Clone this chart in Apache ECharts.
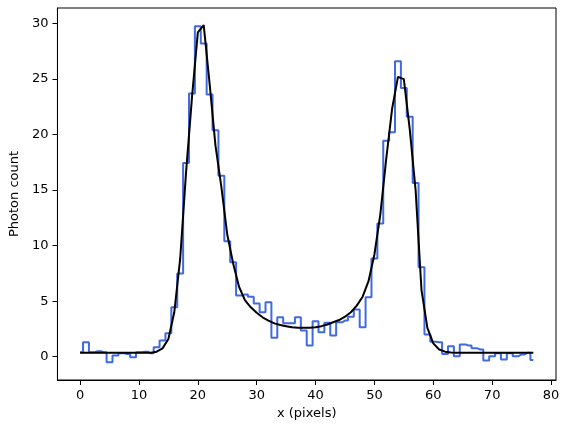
<!DOCTYPE html>
<html>
<head>
<meta charset="UTF-8">
<title>Photon count profile</title>
<script src="https://cdn.jsdelivr.net/npm/echarts@6/dist/echarts.min.js"></script>
<style>
	body { margin: 0; background: #fff; }
	#chart { width: 566px; height: 432px; }
</style>
</head>
<body>
<div id="chart"></div>
<script type="text/javascript">

	// pixel positions 0..77
	var pixels = [];
	for (var i = 0; i <= 77; i++) pixels.push(i);

	// measured counts (blue histogram)
	var counts = [
		0.4, 1.3, 0.4, 0.5, 0.4, -0.5, 0.1, 0.3, 0.25, -0.05,
		0.4, 0.45, 0.3, 0.85, 1.45, 2.1, 4.45, 7.5, 17.45, 23.7,
		29.75, 28.2, 23.6, 20.4, 16.3, 10.4, 8.5, 5.5, 5.6, 5.4,
		4.8, 4.0, 4.9, 1.7, 3.55, 3.0, 3.0, 3.55, 2.35, 1.0,
		3.2, 2.2, 3.05, 1.9, 3.1, 3.25, 3.6, 4.25, 2.65, 5.35,
		8.85, 12.0, 19.45, 20.2, 26.6, 24.2, 21.6, 15.65, 8.05, 2.0,
		1.35, 1.3, 0.25, 0.95, 0.05, 1.1, 1.0, 0.75, 0.65, -0.35,
		0.05, 0.3, -0.25, 0.3, 0.05, 0.2, 0.35, -0.3
	];

	// fitted model (black line)
	var model = [
		0.35, 0.35, 0.35, 0.35, 0.35, 0.35, 0.35, 0.35, 0.35, 0.35,
		0.35, 0.35, 0.36, 0.45, 0.75, 1.6, 4.0, 8.8, 16.6, 23.3,
		29.2, 29.85, 24.6, 19.0, 15.3, 11.0, 8.4, 6.3, 5.1, 4.45,
		3.95, 3.55, 3.25, 3.0, 2.85, 2.75, 2.65, 2.6, 2.6, 2.6,
		2.65, 2.75, 2.9, 3.1, 3.3, 3.6, 4.0, 4.6, 5.4, 6.8,
		9.2, 12.8, 17.8, 22.3, 25.2, 25.0, 20.5, 15.0, 6.0, 2.6,
		1.2, 0.65, 0.45, 0.38, 0.35, 0.35, 0.35, 0.35, 0.35, 0.35,
		0.35, 0.35, 0.35, 0.35, 0.35, 0.35, 0.35, 0.35
	];

	var xTicks = [0, 10, 20, 30, 40, 50, 60, 70, 80];
	var yTicks = [0, 5, 10, 15, 20, 25, 30];

	function pairs(xs, ys) {
		var out = [];
		for (var i = 0; i < xs.length; i++) out.push([xs[i], ys[i]]);
		return out;
	}

	var chart = echarts.init(document.getElementById('chart'), null, { renderer: 'canvas' });

	var axisText = { color: '#000', fontSize: 13, fontFamily: 'DejaVu Sans' };

	var option = {
		animation: false,
		backgroundColor: '#fff',
		grid: {
			left: 57, top: 8, width: 499, height: 372,
			show: true, borderColor: '#000', borderWidth: 1, backgroundColor: 'transparent'
		},
		xAxis: {
			type: 'value',
			min: -3.85,
			max: 80.85,
			name: 'x (pixels)',
			nameLocation: 'middle',
			nameGap: 26,
			nameTextStyle: axisText,
			splitLine: { show: false },
			axisLine: { show: true, onZero: false, lineStyle: { color: '#000', width: 1 } },
			axisTick: { show: true, length: 5, lineStyle: { color: '#000' }, customValues: xTicks },
			axisLabel: { margin: 9, color: '#000', fontSize: 13, fontFamily: 'DejaVu Sans', customValues: xTicks }
		},
		yAxis: {
			type: 'value',
			min: -2.1,
			max: 31.4,
			name: 'Photon count',
			nameLocation: 'middle',
			nameRotate: 90,
			nameGap: 33,
			nameTextStyle: axisText,
			splitLine: { show: false },
			axisLine: { show: true, onZero: false, lineStyle: { color: '#000', width: 1 } },
			axisTick: { show: true, length: 5, lineStyle: { color: '#000' }, customValues: yTicks },
			axisLabel: { margin: 9, color: '#000', fontSize: 13, fontFamily: 'DejaVu Sans', customValues: yTicks }
		},
		series: [{
			name: 'counts',
			type: 'line',
			step: 'middle',
			showSymbol: false,
			symbol: 'none',
			lineStyle: { color: '#4169e1', width: 2 },
			data: pairs(pixels, counts)
		}, {
			name: 'model',
			type: 'line',
			showSymbol: false,
			symbol: 'none',
			lineStyle: { color: '#000', width: 2 },
			data: pairs(pixels, model)
		}]
	};

	chart.setOption(option);
</script>
</body>
</html>
